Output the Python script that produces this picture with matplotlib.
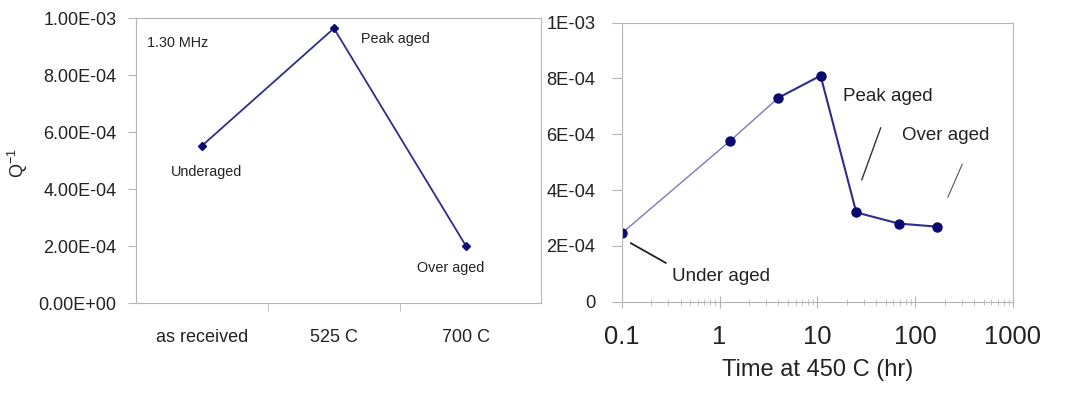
import numpy as np
import matplotlib
matplotlib.use("Agg")
import matplotlib.pyplot as plt
from matplotlib.ticker import LogLocator, NullFormatter

plt.rcParams['font.family'] = ['Liberation Sans', 'DejaVu Sans']
plt.rcParams['mathtext.fontset'] = 'custom'
plt.rcParams['mathtext.rm'] = 'Liberation Sans'

# left panel: Q^-1 vs treatment
treatments = ["as received", "525 C", "700 C"]
q_treat = [5.52e-4, 9.64e-4, 2.01e-4]
treat_notes = ["Underaged", "Peak aged", "Over aged"]
left_yticks = [0, 2e-4, 4e-4, 6e-4, 8e-4, 1e-3]
left_ylabels = ["0.00E+00", "2.00E-04", "4.00E-04", "6.00E-04", "8.00E-04", "1.00E-03"]

# right panel: Q^-1 vs aging time at 450 C
hours = [0.1, 1.28, 4.0, 10.8, 25.0, 68.0, 168.0]
q_time = [2.45e-4, 5.76e-4, 7.31e-4, 8.1e-4, 3.2e-4, 2.8e-4, 2.69e-4]
right_yticks = [0, 2e-4, 4e-4, 6e-4, 8e-4, 1e-3]
right_ylabels = ["0", "2E-04", "4E-04", "6E-04", "8E-04", "1E-03"]
right_xticks = [0.1, 1, 10, 100, 1000]
right_xlabels = ["0.1", "1", "10", "100", "1000"]

spine_c = '#b5b5b5'
txt_c = '#222222'
line_c = '#2e2e8a'
mark_c = '#0a0a70'

fig = plt.figure(figsize=(10.84, 3.93), dpi=100)

# ---- left
ax1 = fig.add_axes([0.1255, 0.229, 0.3736, 0.725])
x = np.arange(len(treatments))
ax1.plot(x, q_treat, color=line_c, lw=1.3, marker='D', ms=4.5, mfc=mark_c, mec=mark_c)
ax1.set_xlim(-0.5, 2.57)
ax1.set_ylim(0, 1e-3)
ax1.set_yticks(left_yticks, left_ylabels)
ax1.set_xticks(x, treatments)
ax1.set_xticks([0.5, 1.5], minor=True)
ax1.tick_params(axis='x', which='major', length=0, pad=19, labelsize=13, colors=txt_c)
ax1.tick_params(axis='x', which='minor', length=6, color=spine_c)
ax1.tick_params(axis='y', length=6, pad=8, labelsize=13, colors=txt_c, color=spine_c)
for s in ax1.spines.values():
    s.set_color(spine_c)
ax1.text(0.026, 0.913, "1.30 MHz", transform=ax1.transAxes, fontsize=10.4,
         color=txt_c, va='center')
note_pos = [(-0.234, 4.59e-4), (1.205, 9.25e-4), (1.629, 1.22e-4)]
for note, (tx, ty) in zip(treat_notes, note_pos):
    ax1.text(tx, ty, note, fontsize=10.4, color=txt_c, va='center')
fig.text(0.017, 0.585, "Q$^{-1}$", rotation=90, fontsize=13, color=txt_c,
         ha='center', va='center')

# ---- right
ax2 = fig.add_axes([0.5735, 0.2323, 0.361, 0.710])
ax2.plot(hours[:3], q_time[:3], color='#7a7ab8', lw=1.0)
ax2.plot(hours[2:], q_time[2:], color=line_c, lw=1.5)
ax2.plot(hours, q_time, ls='none', marker='o', ms=6.5, mfc=mark_c, mec=mark_c)
ax2.set_xscale('log')
ax2.set_xlim(0.1, 1000)
ax2.set_ylim(0, 1e-3)
ax2.set_xticks(right_xticks, right_xlabels)
ax2.xaxis.set_minor_locator(LogLocator(base=10, subs=np.arange(2, 10)))
ax2.xaxis.set_minor_formatter(NullFormatter())
ax2.set_yticks(right_yticks, right_ylabels)
ax2.tick_params(axis='x', which='major', direction='inout', length=8, pad=13,
                labelsize=18.4, colors=txt_c, color=spine_c)
ax2.tick_params(axis='x', which='minor', direction='inout', length=4, color=spine_c)
ax2.tick_params(axis='y', length=7, pad=12, labelsize=13.2, colors=txt_c, color=spine_c)
for s in ax2.spines.values():
    s.set_color(spine_c)
ax2.set_xlabel("Time at 450 C (hr)", fontsize=17, color=txt_c, labelpad=7)

ax2.annotate("Peak aged", xy=(27.8, 4.27e-4), xytext=(18.3, 7.35e-4),
             fontsize=13.5, color=txt_c, va='center')
ax2.annotate("", xy=(27.8, 4.27e-4), xytext=(45.5, 6.33e-4),
             arrowprops=dict(arrowstyle='-', color='#333333', lw=1.0))
ax2.annotate("Over aged", xy=(210, 3.65e-4), xytext=(73, 5.94e-4),
             fontsize=13.5, color=txt_c, va='center')
ax2.annotate("", xy=(210, 3.65e-4), xytext=(311, 5.02e-4),
             arrowprops=dict(arrowstyle='-', color='#555555', lw=0.8))
ax2.annotate("Under aged", xy=(0.1168, 2.15e-4), xytext=(0.329, 0.92e-4),
             fontsize=13.5, color=txt_c, va='center')
ax2.annotate("", xy=(0.1168, 2.15e-4), xytext=(0.2996, 1.34e-4),
             arrowprops=dict(arrowstyle='-', color='#222222', lw=1.3))

fig.savefig("out.png", dpi=100)
